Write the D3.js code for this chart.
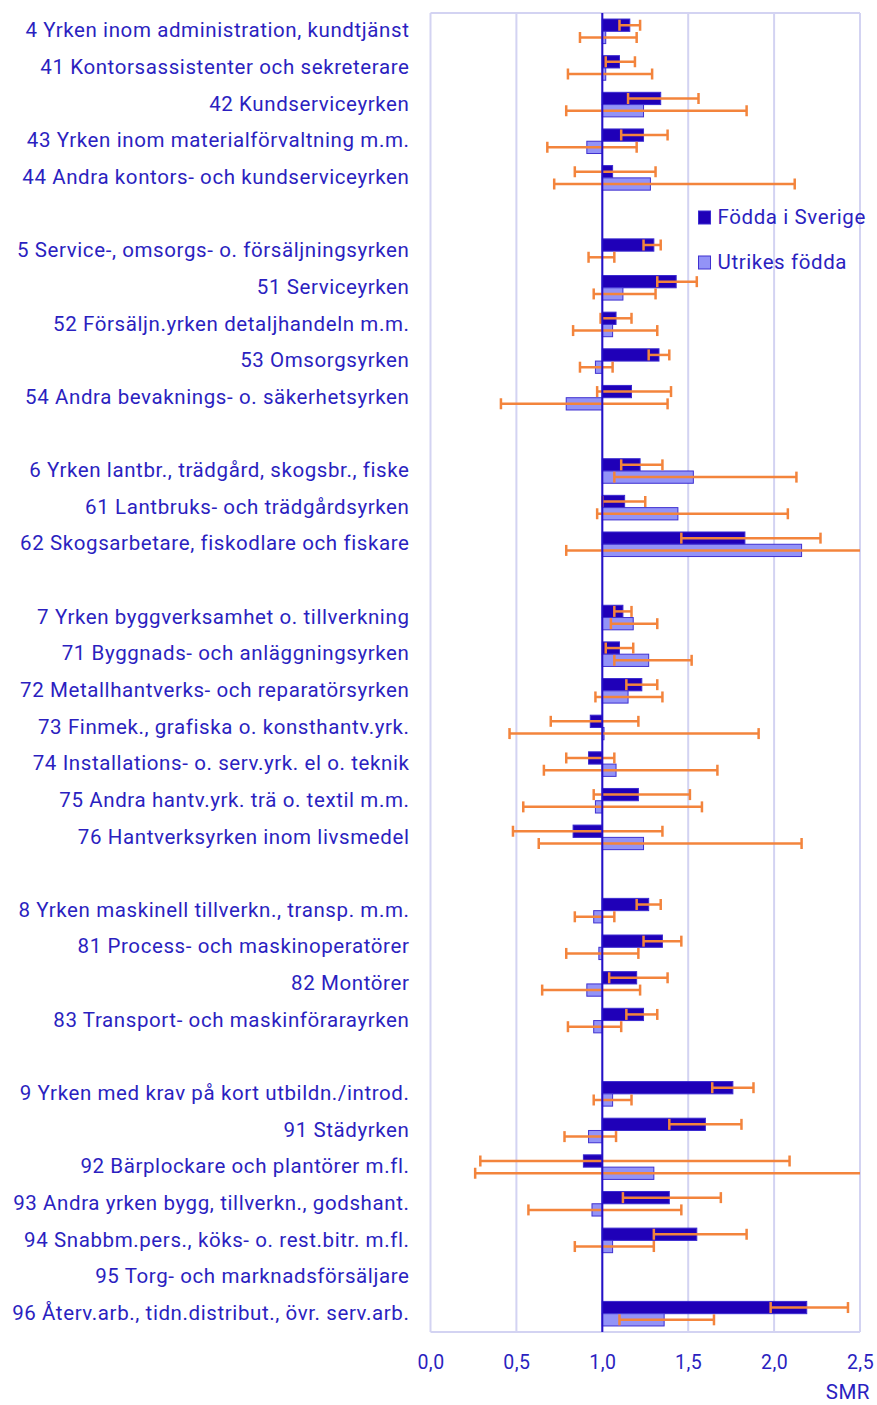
<!DOCTYPE html>
<html>
<head>
<meta charset="utf-8">
<script src="https://cdn.jsdelivr.net/npm/d3@7"></script>
<style>
  body { margin: 0; background: #fff; }
  text { font-family: Roboto, "Noto Sans", sans-serif; fill: #2b1fc0; }
</style>
</head>
<body>
<div id="chart"></div>
<script>
// rows top to bottom, "" = blank spacer row
var labels = [
  "4 Yrken inom administration, kundtjänst",
  "41 Kontorsassistenter och sekreterare",
  "42 Kundserviceyrken",
  "43 Yrken inom materialförvaltning m.m.",
  "44 Andra kontors- och kundserviceyrken",
  "",
  "5 Service-, omsorgs- o. försäljningsyrken",
  "51 Serviceyrken",
  "52 Försäljn.yrken detaljhandeln m.m.",
  "53 Omsorgsyrken",
  "54 Andra bevaknings- o. säkerhetsyrken",
  "",
  "6 Yrken lantbr., trädgård, skogsbr.,  fiske",
  "61 Lantbruks- och trädgårdsyrken",
  "62 Skogsarbetare, fiskodlare och fiskare",
  "",
  "7 Yrken byggverksamhet o. tillverkning",
  "71 Byggnads- och anläggningsyrken",
  "72 Metallhantverks- och reparatörsyrken",
  "73 Finmek., grafiska o. konsthantv.yrk.",
  "74 Installations- o. serv.yrk. el o. teknik",
  "75 Andra hantv.yrk. trä o. textil m.m.",
  "76 Hantverksyrken inom livsmedel",
  "",
  "8 Yrken maskinell tillverkn., transp. m.m.",
  "81 Process- och maskinoperatörer",
  "82 Montörer",
  "83 Transport- och maskinförarayrken",
  "",
  "9 Yrken med krav på kort utbildn./introd.",
  "91 Städyrken",
  "92 Bärplockare och plantörer m.fl.",
  "93 Andra yrken bygg, tillverkn., godshant.",
  "94 Snabbm.pers., köks- o. rest.bitr. m.fl.",
  "95 Torg- och marknadsförsäljare",
  "96 Återv.arb., tidn.distribut., övr. serv.arb."
];

var sverige   = [1.16,1.10,1.34,1.24,1.06, null, 1.30,1.43,1.08,1.33,1.17, null, 1.22,1.13,1.83, null, 1.12,1.10,1.23,0.93,0.92,1.21,0.83, null, 1.27,1.35,1.20,1.24, null, 1.76,1.60,0.89,1.39,1.55,null,2.19];
var sverigeLo = [1.10,1.02,1.15,1.11,0.84, null, 1.24,1.32,0.99,1.27,0.97, null, 1.11,1.00,1.46, null, 1.07,1.02,1.14,0.70,0.79,0.95,0.48, null, 1.20,1.24,1.04,1.14, null, 1.64,1.39,0.29,1.12,1.30,null,1.98];
var sverigeHi = [1.22,1.19,1.56,1.38,1.31, null, 1.34,1.55,1.17,1.39,1.40, null, 1.35,1.25,2.27, null, 1.17,1.18,1.32,1.21,1.07,1.51,1.35, null, 1.34,1.46,1.38,1.32, null, 1.88,1.81,2.09,1.69,1.84,null,2.43];

var utrikes   = [1.02,1.02,1.24,0.91,1.28, null, 1.00,1.12,1.06,0.96,0.79, null, 1.53,1.44,2.16, null, 1.18,1.27,1.15,1.01,1.08,0.96,1.24, null, 0.95,0.98,0.91,0.95, null, 1.06,0.92,1.30,0.94,1.06,null,1.36];
var utrikesLo = [0.87,0.80,0.79,0.68,0.72, null, 0.92,0.95,0.83,0.87,0.41, null, 1.07,0.97,0.79, null, 1.05,1.07,0.96,0.46,0.66,0.54,0.63, null, 0.84,0.79,0.65,0.80, null, 0.95,0.78,0.26,0.57,0.84,null,1.10];
var utrikesHi = [1.20,1.29,1.84,1.20,2.12, null, 1.07,1.31,1.32,1.06,1.38, null, 2.13,2.08,2.70, null, 1.32,1.52,1.35,1.91,1.67,1.58,2.16, null, 1.07,1.21,1.22,1.11, null, 1.17,1.08,2.70,1.46,1.30,null,1.65];

var xTicks = [0, 0.5, 1, 1.5, 2, 2.5];
var seriesNames = ["Födda i Sverige", "Utrikes födda"];

var svgWidth = 877, svgHeight = 1405;
var margin = {top: 13, right: 17, bottom: 73, left: 430.5};
var chartWidth = svgWidth - margin.left - margin.right;
var chartHeight = svgHeight - margin.top - margin.bottom;

var darkFill = "#1f00b8", darkStroke = "#3a2ad0";
var lightFill = "#9393f7", lightStroke = "#3f30d0";
var errColor = "#f3843c";
var gridColor = "#d3d3f2";

var svg = d3.select("#chart").append("svg")
    .attr("width", svgWidth)
    .attr("height", svgHeight);

var g = svg.append("g")
    .attr("transform", `translate(${margin.left},${margin.top})`);

var x = d3.scaleLinear().domain([0, 2.5]).range([0, chartWidth]);
var y = d3.scaleBand().domain(d3.range(labels.length)).range([0, chartHeight]).paddingInner(0).paddingOuter(0);
var bh = y.bandwidth() * 0.335;
var off = y.bandwidth() * 0.165;

g.append("defs").append("clipPath").attr("id", "clip")
  .append("rect").attr("width", chartWidth).attr("height", chartHeight);

// gridlines
g.selectAll(".grid").data(xTicks).enter().append("line")
    .attr("x1", d => x(d)).attr("x2", d => x(d))
    .attr("y1", 0).attr("y2", chartHeight)
    .attr("stroke", gridColor).attr("stroke-width", 2);
g.append("line").attr("x1", 0).attr("x2", chartWidth).attr("y1", 0).attr("y2", 0)
    .attr("stroke", gridColor).attr("stroke-width", 2);
g.append("line").attr("x1", 0).attr("x2", chartWidth).attr("y1", chartHeight).attr("y2", chartHeight)
    .attr("stroke", gridColor).attr("stroke-width", 2);

var idx = d3.range(labels.length);
var plot = g.append("g").attr("clip-path", "url(#clip)");

function drawSeries(vals, fill, stroke, dy) {
  var rows = idx.filter(i => vals[i] != null);
  plot.selectAll(null).data(rows).enter().append("rect")
      .attr("x", i => x(Math.min(1, vals[i])))
      .attr("y", i => y(i) + dy)
      .attr("width", i => Math.abs(x(vals[i]) - x(1)))
      .attr("height", bh)
      .attr("fill", fill)
      .attr("stroke", stroke)
      .attr("stroke-width", 1);
}
function drawErr(lo, hi, dy) {
  var rows = idx.filter(i => lo[i] != null);
  var eg = plot.selectAll(null).data(rows).enter().append("g")
      .attr("stroke", errColor).attr("stroke-width", 2.5);
  eg.append("line")
      .attr("x1", i => x(lo[i])).attr("x2", i => x(hi[i]))
      .attr("y1", i => y(i) + dy + bh / 2).attr("y2", i => y(i) + dy + bh / 2);
  eg.append("line")
      .attr("x1", i => x(lo[i])).attr("x2", i => x(lo[i]))
      .attr("y1", i => y(i) + dy + bh / 2 - 5.5).attr("y2", i => y(i) + dy + bh / 2 + 5.5);
  eg.append("line")
      .attr("x1", i => x(hi[i])).attr("x2", i => x(hi[i]))
      .attr("y1", i => y(i) + dy + bh / 2 - 5.5).attr("y2", i => y(i) + dy + bh / 2 + 5.5);
}

drawSeries(sverige, darkFill, darkStroke, off);
drawSeries(utrikes, lightFill, lightStroke, off + bh);

// baseline at SMR 1
g.append("line")
    .attr("x1", x(1)).attr("x2", x(1))
    .attr("y1", 0).attr("y2", chartHeight)
    .attr("stroke", "#2410c8").attr("stroke-width", 2);

drawErr(sverigeLo, sverigeHi, off);
drawErr(utrikesLo, utrikesHi, off + bh);

// category labels
g.selectAll(".lab").data(idx).enter().append("text")
    .attr("x", -21)
    .attr("y", i => y(i) + y.bandwidth() / 2 - 1)
    .attr("dy", "0.35em")
    .attr("text-anchor", "end")
    .attr("font-size", "20.5px")
    .attr("letter-spacing", "0.6px")
    .text(i => labels[i]);

// x axis labels
var xAxis = d3.axisBottom(x).tickValues(xTicks).tickSize(0)
    .tickFormat(d => d3.format(".1f")(d).replace(".", ","));
var ax = g.append("g").attr("transform", `translate(0,${chartHeight})`).call(xAxis);
ax.select(".domain").remove();
ax.selectAll("text").attr("font-size", "19.5px").attr("letter-spacing", "0.5px")
    .attr("y", 37).attr("dy", 0)
    .style("fill", "#2b1fc0").attr("font-family", "Roboto, sans-serif");

g.append("text")
    .attr("x", chartWidth + 10)
    .attr("y", chartHeight + 67)
    .attr("text-anchor", "end")
    .attr("font-size", "20.5px")
    .attr("letter-spacing", "0.5px")
    .text("SMR");

// legend
var legend = g.append("g").attr("transform", `translate(${x(1.56)},${198})`);
seriesNames.forEach(function(name, k) {
  legend.append("rect")
      .attr("x", 0).attr("y", k * 45)
      .attr("width", 12).attr("height", 13)
      .attr("fill", k === 0 ? darkFill : lightFill)
      .attr("stroke", k === 0 ? darkStroke : lightStroke);
  legend.append("text")
      .attr("x", 19).attr("y", k * 45 + 13)
      .attr("font-size", "20.5px")
      .attr("letter-spacing", "0.6px")
      .text(name);
});
</script>
</body>
</html>
